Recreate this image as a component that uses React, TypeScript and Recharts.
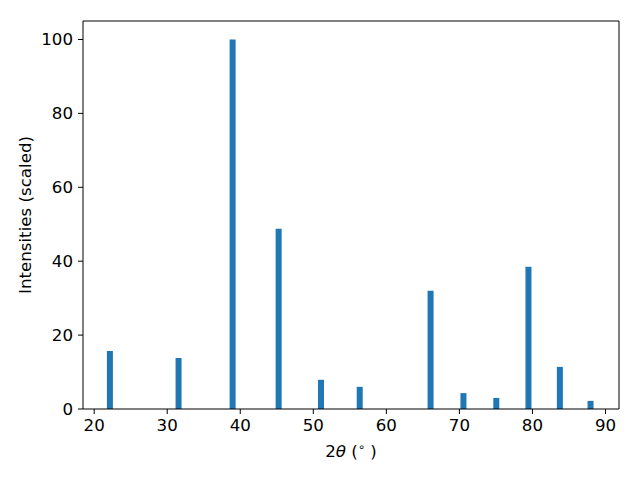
import React from 'react';
import { BarChart, Bar, XAxis, YAxis, Label, ReferenceLine } from 'recharts';

// peak positions (2θ, degrees) and scaled intensities
const twoTheta = [22.2, 31.6, 39.0, 45.3, 51.1, 56.4, 66.1, 70.6, 75.1, 79.5, 83.8, 88.0];
const intensity = [15.7, 13.8, 100, 48.8, 7.9, 6.0, 32.0, 4.3, 3.0, 38.5, 11.4, 2.2];
const xTicks = [20, 30, 40, 50, 60, 70, 80, 90];
const yTicks = [0, 20, 40, 60, 80, 100];

const X_DOMAIN: [number, number] = [18.47, 91.85];
const Y_DOMAIN: [number, number] = [0, 105];

const data = twoTheta.map((x, i) => ({ x, y: intensity[i] }));

const FONT = 'DejaVu Sans, sans-serif';
const FS = 16.67;

const XLabel = ({ viewBox }: any) => {
  const cx = viewBox.x + viewBox.width / 2;
  return (
    <text x={cx} y={457} textAnchor="middle" fontFamily={FONT} fontSize={FS} fill="#000">
      <tspan>2</tspan>
      <tspan fontStyle="italic">θ</tspan>
      <tspan> (</tspan>
      <tspan fontSize={11.5} dy={-6}>∘</tspan>
      <tspan dy={6}> )</tspan>
    </text>
  );
};

const YLabel = ({ viewBox }: any) => {
  const cy = viewBox.y + viewBox.height / 2;
  return (
    <text
      x={31}
      y={cy}
      transform={`rotate(-90, 31, ${cy})`}
      textAnchor="middle"
      fontFamily={FONT}
      fontSize={FS}
      fill="#000"
    >
      Intensities (scaled)
    </text>
  );
};

export default function App() {
  const tick = { fontSize: FS, fill: '#000', fontFamily: FONT };
  return (
    <div style={{ position: 'absolute', left: 0, top: 0, width: 640, height: 480, background: '#fff' }}>
      <BarChart width={640} height={480} data={data} margin={{ top: 21, right: 21, left: 0, bottom: 0 }}>
        <XAxis
          dataKey="x"
          type="number"
          domain={X_DOMAIN}
          ticks={xTicks}
          allowDataOverflow
          height={71}
          stroke="#000"
          tick={tick}
          tickSize={5}
          tickMargin={5}
          interval={0}
        >
          <Label content={<XLabel />} />
        </XAxis>
        <YAxis
          type="number"
          domain={Y_DOMAIN}
          ticks={yTicks}
          allowDataOverflow
          width={83}
          stroke="#000"
          tick={tick}
          tickSize={5}
          tickMargin={5}
          interval={0}
        >
          <Label content={<YLabel />} />
        </YAxis>
        <ReferenceLine y={Y_DOMAIN[1]} stroke="#000" strokeWidth={1} />
        <ReferenceLine x={X_DOMAIN[1]} stroke="#000" strokeWidth={1} />
        <Bar dataKey="y" fill="#1f77b4" barSize={6} isAnimationActive={false} />
      </BarChart>
    </div>
  );
}
